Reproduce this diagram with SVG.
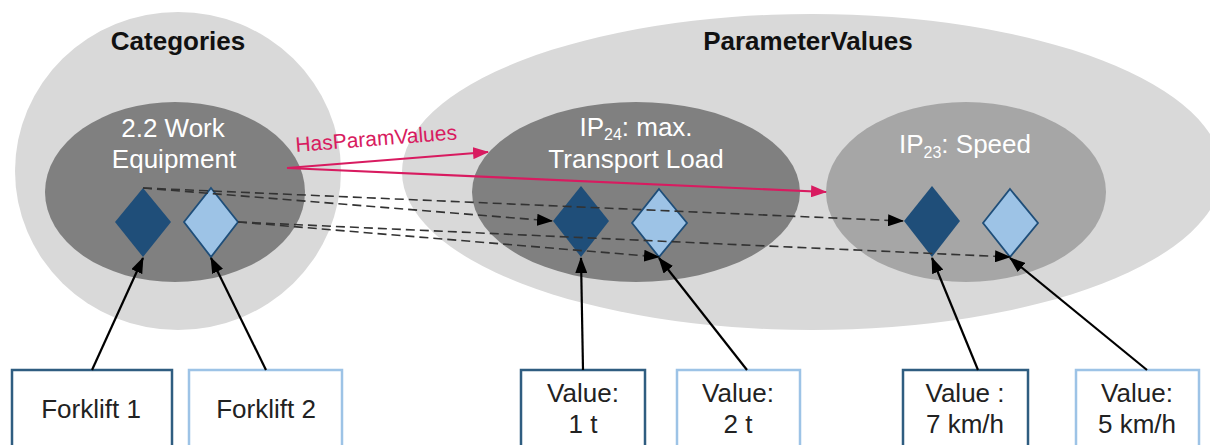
<svg xmlns="http://www.w3.org/2000/svg" width="1210" height="445" viewBox="0 0 1210 445">
<defs>
<style>
text{font-family:"Liberation Sans",Arial,sans-serif;}
.outer{fill:#d9d9d9;}
.inner{fill:#808080;}
.inner2{fill:#a6a6a6;}
.title{font-size:26px;font-weight:bold;fill:#111;text-anchor:middle;}
.wt{font-size:26px;fill:#fff;text-anchor:middle;}
.bt{font-size:26px;fill:#222;text-anchor:middle;}
.dk{fill:#1f4e79;}
.lt{fill:#9dc3e6;stroke:#1f4e79;stroke-width:1.8;}
.boxd{fill:#fff;stroke:#2f5d80;stroke-width:2.5;}
.boxl{fill:#fff;stroke:#9dc3e6;stroke-width:2.5;}
.solid{stroke:#000;stroke-width:2.2;fill:none;}
.dash{stroke:#333;stroke-width:1.6;stroke-dasharray:9,5;fill:none;}
.pink{stroke:#d81b60;stroke-width:2.2;fill:none;}
</style>
<marker id="ah" markerUnits="userSpaceOnUse" markerWidth="16" markerHeight="12" refX="15" refY="6" orient="auto"><path d="M0,0 L16,6 L0,12 Z" fill="#000"/></marker>
<marker id="ahp" markerUnits="userSpaceOnUse" markerWidth="16" markerHeight="12" refX="15" refY="6" orient="auto"><path d="M0,0 L16,6 L0,12 Z" fill="#d81b60"/></marker>
</defs>
<rect width="1210" height="445" fill="#fff"/>
<g id="categories">
<ellipse class="outer" cx="178" cy="171" rx="163" ry="159"/>
<text class="title" x="178" y="50">Categories</text>
</g>
<g id="parametervalues">
<ellipse class="outer" cx="812" cy="172" rx="410" ry="158"/>
<text class="title" x="808" y="50">ParameterValues</text>
</g>
<g id="work-equipment">
<ellipse class="inner" cx="175" cy="192" rx="130" ry="90"/>
<text class="wt" x="173" y="137">2.2 Work</text>
<text class="wt" x="174" y="168">Equipment</text>
<polygon class="dk" points="143,188 171,222 143,257 115,222"/>
<polygon class="lt" points="211,188 238,222 211,257 184,222"/>
</g>
<g id="ip24">
<ellipse class="inner" cx="636" cy="192" rx="164" ry="90"/>
<text class="wt" x="636" y="136">IP<tspan font-size="16" dy="4">24</tspan><tspan dy="-4">: max.</tspan></text>
<text class="wt" x="636" y="168">Transport Load</text>
<polygon class="dk" points="581,186 609,221 581,257 553,221"/>
<polygon class="lt" points="659,189 687,223 659,257 632,223"/>
</g>
<g id="ip23">
<ellipse class="inner2" cx="966" cy="192" rx="140" ry="90"/>
<text class="wt" x="965" y="153" fill="#f2f2f2">IP<tspan font-size="16" dy="5">23</tspan><tspan dy="-5">: Speed</tspan></text>
<polygon class="dk" points="932,186 960,221 932,257 904,221"/>
<polygon class="lt" points="1010,189 1038,223 1010,257 983,223"/>
</g>
<g id="forklift1">
<rect class="boxd" x="12" y="370" width="160" height="90"/>
<text class="bt" x="91" y="418">Forklift 1</text>
</g>
<g id="forklift2">
<rect class="boxl" x="189" y="370" width="153" height="90"/>
<text class="bt" x="266" y="418">Forklift 2</text>
</g>
<g id="value-1t">
<rect class="boxd" x="521" y="370" width="124" height="90"/>
<text class="bt" x="583" y="402">Value:</text>
<text class="bt" x="583" y="433">1 t</text>
</g>
<g id="value-2t">
<rect class="boxl" x="677" y="370" width="123" height="90"/>
<text class="bt" x="738" y="402">Value:</text>
<text class="bt" x="738" y="433">2 t</text>
</g>
<g id="value-7kmh">
<rect class="boxd" x="903" y="370" width="125" height="90"/>
<text class="bt" x="965" y="402">Value :</text>
<text class="bt" x="965" y="433">7 km/h</text>
</g>
<g id="value-5kmh">
<rect class="boxl" x="1076" y="370" width="123" height="90"/>
<text class="bt" x="1137" y="402">Value:</text>
<text class="bt" x="1137" y="433">5 km/h</text>
</g>
<g id="connectors">
<line class="solid" x1="92" y1="370" x2="143" y2="258" marker-end="url(#ah)"/>
<line class="solid" x1="266" y1="370" x2="211" y2="258" marker-end="url(#ah)"/>
<line class="solid" x1="583" y1="370" x2="581" y2="258" marker-end="url(#ah)"/>
<line class="solid" x1="747" y1="370" x2="659" y2="258" marker-end="url(#ah)"/>
<line class="solid" x1="978" y1="370" x2="932" y2="258" marker-end="url(#ah)"/>
<line class="solid" x1="1147" y1="370" x2="1010" y2="258" marker-end="url(#ah)"/>
<line class="dash" x1="143" y1="188" x2="552" y2="221" marker-end="url(#ah)"/>
<line class="dash" x1="143" y1="188" x2="903" y2="221" marker-end="url(#ah)"/>
<line class="dash" x1="238" y1="222" x2="659" y2="257" marker-end="url(#ah)"/>
<line class="dash" x1="238" y1="222" x2="1010" y2="257" marker-end="url(#ah)"/>
<line class="pink" x1="287" y1="168" x2="488" y2="152" marker-end="url(#ahp)"/>
<line class="pink" x1="287" y1="168" x2="826" y2="192" marker-end="url(#ahp)"/>
<text x="296" y="152" font-size="21" fill="#d81b60" transform="rotate(-4.5 296 152)">HasParamValues</text>
</g>
</svg>
